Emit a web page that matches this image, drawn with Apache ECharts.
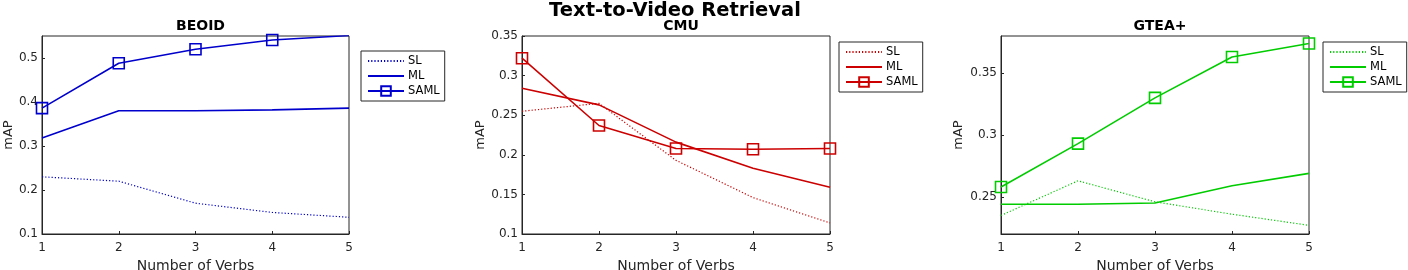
<!DOCTYPE html>
<html>
<head>
<meta charset="utf-8">
<script src="https://cdn.jsdelivr.net/npm/echarts@6/dist/echarts.min.js"></script>
<style>html,body{margin:0;padding:0;background:#fff}#c{width:1408px;height:270px}</style>
</head>
<body>
<div id="c"></div>
<script>
const verbs = [1, 2, 3, 4, 5];
const seriesNames = ['SL', 'ML', 'SAML'];
const panelTitles = ['BEOID', 'CMU', 'GTEA+'];

const beoidSL   = [0.230, 0.220, 0.170, 0.149, 0.138];
const beoidML   = [0.318, 0.380, 0.380, 0.382, 0.386];
const beoidSAML = [0.386, 0.488, 0.520, 0.541, 0.551];

const cmuSL   = [0.255, 0.265, 0.193, 0.146, 0.114];
const cmuML   = [0.284, 0.263, 0.216, 0.183, 0.159];
const cmuSAML = [0.322, 0.237, 0.208, 0.207, 0.208];

const gteaSL   = [0.235, 0.263, 0.246, 0.236, 0.227];
const gteaML   = [0.244, 0.244, 0.245, 0.259, 0.269];
const gteaSAML = [0.258, 0.293, 0.330, 0.363, 0.374];

const beoidTicks = [0.1, 0.2, 0.3, 0.4, 0.5];
const cmuTicks   = [0.1, 0.15, 0.2, 0.25, 0.3, 0.35];
const gteaTicks  = [0.25, 0.3, 0.35];

const panels = [
  {data:[beoidSL, beoidML, beoidSAML], color:'#0000CC', ticks:beoidTicks, min:0.1, max:0.55,
   grid:{left:42, top:36, width:307, height:198}, legend:{left:361, top:51}, nameGap:27},
  {data:[cmuSL, cmuML, cmuSAML], color:'#CC0000', ticks:cmuTicks, min:0.1, max:0.35,
   grid:{left:522, top:36, width:308, height:198}, legend:{left:839, top:42}, nameGap:35},
  {data:[gteaSL, gteaML, gteaSAML], color:'#00CC00', ticks:gteaTicks, min:0.22, max:0.38,
   grid:{left:1001, top:36, width:308, height:198}, legend:{left:1323, top:42}, nameGap:36}
];

const txt = '#262626';
const font = 'DejaVu Sans';
const fmt = v => String(+(+v).toFixed(2));

const option = {
  animation:false,
  textStyle:{fontFamily:font},
  title:[{text:'Text-to-Video Retrieval', left:670, top:-4, textAlign:'center',
          textStyle:{fontSize:19.5, fontWeight:'bold', color:'#000', fontFamily:font}}].concat(
    panels.map((p,i)=>({text:panelTitles[i], left:p.grid.left + p.grid.width/2, top:14, textAlign:'center',
      textStyle:{fontSize:14, fontWeight:'bold', color:'#000', fontFamily:font}}))),
  grid: panels.map(p=>Object.assign({show:true, borderColor:txt, borderWidth:1, backgroundColor:'#fff',
      containLabel:false, outerBoundsMode:'none'}, p.grid)),
  xAxis: panels.map((p,i)=>({
    type:'value', gridIndex:i, min:1, max:5, interval:1,
    name:'Number of Verbs', nameLocation:'middle', nameGap:25,
    nameTextStyle:{fontSize:14, color:txt, fontFamily:font},
    axisLine:{lineStyle:{color:txt, width:1}},
    axisTick:{inside:true, length:3, lineStyle:{color:txt}},
    axisLabel:{fontSize:12, color:txt, margin:8, fontFamily:font, formatter:v=>String(v)},
    splitLine:{show:false}
  })),
  yAxis: panels.map((p,i)=>({
    type:'value', gridIndex:i, min:p.min, max:p.max,
    name:'mAP', nameLocation:'middle', nameGap:p.nameGap, nameRotate:90,
    nameTextStyle:{fontSize:13, color:txt, fontFamily:font},
    axisLine:{show:true, lineStyle:{color:txt, width:1}},
    axisTick:{show:true, inside:true, length:3, lineStyle:{color:txt}, customValues:p.ticks},
    axisLabel:{fontSize:12, color:txt, margin:4, fontFamily:font, customValues:p.ticks, formatter:fmt},
    splitLine:{show:false}
  })),
  legend: panels.map((p,i)=>({
    data:seriesNames.map((n,k)=>{
      const d = {name:n+' '.repeat(i)};
      if (k < 2) d.itemStyle = {borderWidth:0, borderColor:'rgba(0,0,0,0)', color:'rgba(0,0,0,0)'};
      return d;
    }),
    formatter: name => name.trim(),
    left:p.legend.left, top:p.legend.top, orient:'vertical',
    itemWidth:36, itemHeight:12, itemGap:3, padding:[4,5,4,6],
    borderColor:txt, borderWidth:1, backgroundColor:'#fff',
    textStyle:{fontSize:11.5, color:'#000', fontFamily:font, padding:[0,0,0,-1]},
    selectedMode:false
  })),
  series: []
};

panels.forEach((p,i)=>{
  const sfx = ' '.repeat(i);
  p.data.forEach((vals,k)=>{
    option.series.push({
      name: seriesNames[k] + sfx, type:'line', xAxisIndex:i, yAxisIndex:i,
      data: verbs.map((x,j)=>[x, vals[j]]),
      color: p.color,
      lineStyle:{color:p.color, width: k===0 ? 1.2 : 1.6, type: k===0 ? [1.2,2] : 'solid'},
      symbol: k===2 ? 'rect' : 'none',
      symbolSize: 11,
      itemStyle:{color:'rgba(255,255,255,0)', borderColor:p.color, borderWidth:1.6},
      z: 3 + k
    });
  });
});

const chart = echarts.init(document.getElementById('c'), null, {renderer:'canvas'});
chart.setOption(option);
</script>
</body>
</html>
